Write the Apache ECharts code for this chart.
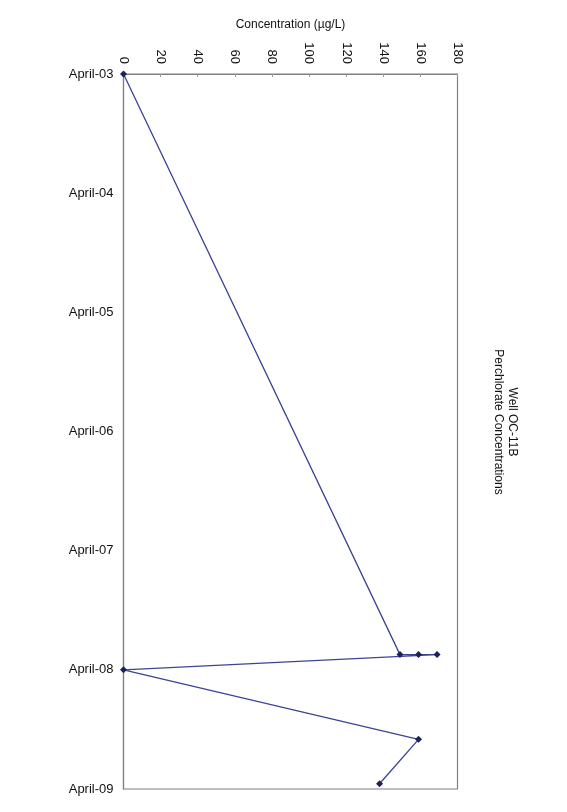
<!DOCTYPE html>
<html><head><meta charset="utf-8">
<script src="https://cdn.jsdelivr.net/npm/echarts@6/dist/echarts.min.js"></script>
<style>html,body{margin:0;padding:0;background:#fff}#c{width:567px;height:812px}</style>
</head><body><div id="c"></div>
<script>
const sampleDates = ['2003-04-01','2008-02-15','2008-02-15','2008-02-15','2008-04-01','2008-11-01','2009-03-15'];
const concentrations = [0,149,159,169,0,159,138];
const concTicks = [0,20,40,60,80,100,120,140,160,180];
const dateTickLabels = ['April-03','April-04','April-05','April-06','April-07','April-08','April-09'];
const titleLines = ['Well OC-11B','Perchlorate Concentrations'];
const axisName = 'Concentration (µg/L)';

function monthsFromStart(s){
  const p = s.split('-').map(Number);
  return (p[0]-2003)*12 + (p[1]-4) + (p[2]-1)/30;
}
const FONT = '"Liberation Sans", Arial, sans-serif';
const chart = echarts.init(document.getElementById('c'), null, {renderer:'canvas'});
chart.setOption({
  backgroundColor:'#fff',
  animation:false,
  grid:{left:123.5,right:109.5,top:74,bottom:23,show:true,borderColor:'#808080',borderWidth:1.2,backgroundColor:'transparent'},
  xAxis:{
    type:'value', position:'top', min:concTicks[0], max:concTicks[concTicks.length-1], interval:concTicks[1]-concTicks[0],
    name:axisName, nameLocation:'middle', nameGap:43,
    nameTextStyle:{fontFamily:FONT,fontSize:12,color:'#111'},
    axisLine:{show:true,lineStyle:{color:'#808080',width:1.2}},
    axisTick:{show:true,inside:true,length:3,lineStyle:{color:'#999'}},
    splitLine:{show:false},
    axisLabel:{rotate:-90,margin:10,fontFamily:FONT,fontSize:13,color:'#111'}
  },
  yAxis:{
    type:'value', inverse:true, min:0, max:72, interval:12,
    axisLine:{show:true,lineStyle:{color:'#808080',width:1.2}},
    axisTick:{show:false},
    splitLine:{show:false},
    axisLabel:{margin:10,fontFamily:FONT,fontSize:13,color:'#111',
      formatter:function(v){return dateTickLabels[Math.round(v/12)];}}
  },
  graphic:[{
    type:'text', x:505, y:422, rotation:-Math.PI/2,
    style:{text:titleLines.join('\n'),align:'center',verticalAlign:'middle',
      font:'12px '+FONT,fill:'#111',lineHeight:14}
  }],
  series:[{
    type:'line',
    data:concentrations.map(function(c,i){return [c, monthsFromStart(sampleDates[i])];}),
    symbol:'diamond', symbolSize:7,
    lineStyle:{color:'#3c4494',width:1.3},
    itemStyle:{color:'#1d1f5e'}
  }]
});
</script></body></html>
